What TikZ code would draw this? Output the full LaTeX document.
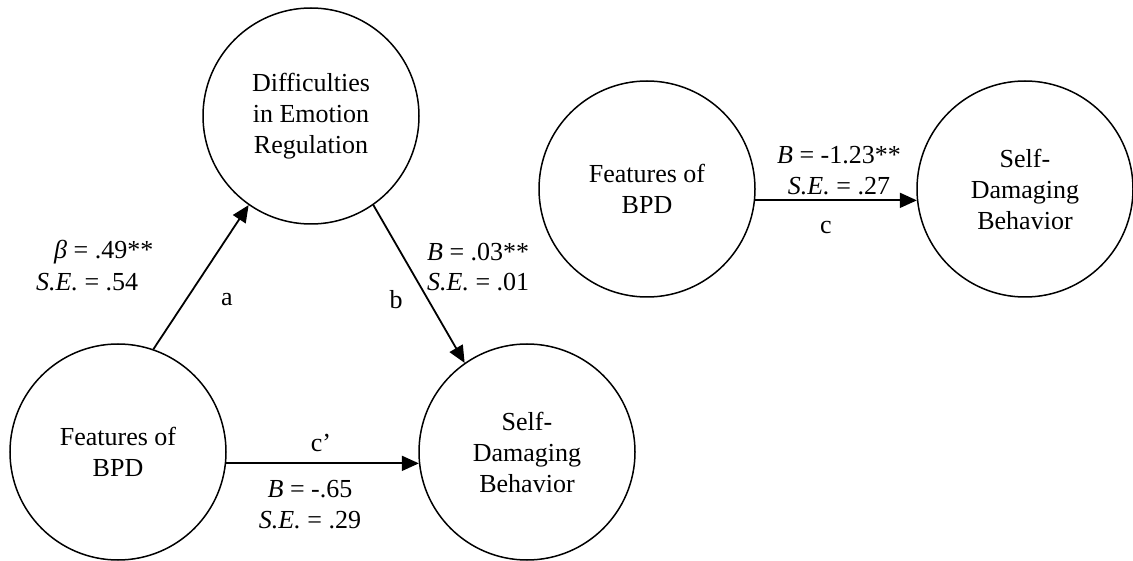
\documentclass[tikz,border=0pt]{standalone}
\usepackage{fontspec}
\setmainfont{Liberation Serif}
\usetikzlibrary{arrows.meta}
\tikzset{
  var/.style={circle, draw, line width=1.5pt, minimum size=216pt, inner sep=0pt, align=center, font=\fontsize{26}{31}\selectfont},
  lbl/.style={inner sep=0pt, font=\fontsize{26}{31}\selectfont},
  arr/.style={line width=1.8pt, -{Triangle[length=17pt,width=15pt]}}
}
\begin{document}
\begin{tikzpicture}[x=1pt,y=-1pt]
\useasboundingbox (0,0) rectangle (1133,561);
% left model
\node[var] (der) at (311,116) {Difficulties\\in Emotion\\Regulation};
\node[var] (fb1) at (118,452) {Features of\\BPD};
\node[var] (sd1) at (527,452) {Self-\\Damaging\\Behavior};
\draw[arr] (fb1.71.4) -- (der.235.6);
\draw[arr] (der.305.3) -- (sd1.125);
\draw[arr] (fb1.-6.4) -- (sd1.186.4);
\node[lbl, anchor=west] (la1) at (54,252) {\textit{β} = .49**};
\node[lbl, anchor=west] (la2) at (36,282) {\textit{S.E.} = .54};
\node[lbl] (la) at (227,300) {a};
\node[lbl] (lb) at (396,300) {b};
\node[lbl, anchor=west] (lb1) at (427,252) {\textit{B} = .03**};
\node[lbl, anchor=west] (lb2) at (427,282) {\textit{S.E.} = .01};
\node[lbl] (lc) at (321,443) {c’};
\node[lbl] (lc1) at (310,489) {\textit{B} = -.65};
\node[lbl] (lc2) at (310,520) {\textit{S.E.} = .29};
% right model
\node[var] (fb2) at (647,189) {Features of\\BPD};
\node[var] (sd2) at (1025,189) {Self-\\Damaging\\Behavior};
\draw[arr] (fb2.-6.4) -- (sd2.186.4);
\node[lbl] (ld1) at (839,155) {\textit{B} = -1.23**};
\node[lbl] (ld2) at (839,186) {\textit{S.E.} = .27};
\node[lbl] (ld) at (826,228) {c};
\end{tikzpicture}
\end{document}
